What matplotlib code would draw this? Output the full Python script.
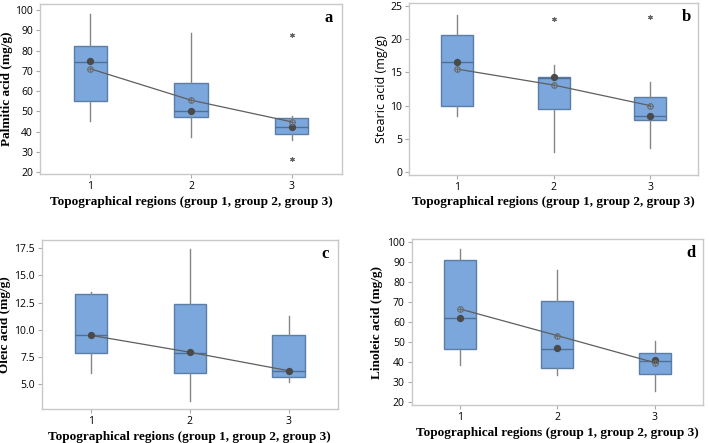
import numpy as np
import matplotlib.pyplot as plt

# x groups (topographical regions)
groups = [1, 2, 3]

# box stats per panel: lower whisker, Q1, median, Q3, upper whisker
palm_low = [45.0, 37.5, 36.0]
palm_q1 = [55.0, 47.3, 39.0]
palm_med = [74.5, 50.0, 42.5]
palm_q3 = [82.5, 64.0, 46.5]
palm_high = [98.0, 88.5, 47.5]
palm_out = [[], [], [87.5, 26.5]]
palm_dot = [75.0, 50.3, 42.5]
palm_mean = [71.0, 55.5, 44.8]

stear_low = [8.5, 3.0, 3.6]
stear_q1 = [10.0, 9.5, 7.8]
stear_med = [16.5, 14.2, 8.5]
stear_q3 = [20.6, 14.3, 11.3]
stear_high = [23.6, 16.1, 13.5]
stear_out = [[], [23.0], [23.4]]
stear_dot = [16.5, 14.3, 8.5]
stear_mean = [15.5, 13.1, 10.0]

oleic_low = [6.0, 3.5, 5.2]
oleic_q1 = [7.85, 6.05, 5.7]
oleic_med = [9.5, 7.9, 6.2]
oleic_q3 = [13.3, 12.4, 9.5]
oleic_high = [13.5, 17.4, 11.3]
oleic_out = [[], [], []]
oleic_dot = [9.5, 7.95, 6.25]
oleic_mean = None

lino_low = [38.5, 33.5, 25.5]
lino_q1 = [46.5, 37.0, 34.0]
lino_med = [62.0, 46.5, 40.5]
lino_q3 = [91.0, 70.5, 44.5]
lino_high = [96.5, 86.0, 50.5]
lino_out = [[], [], []]
lino_dot = [62.0, 46.8, 40.7]
lino_mean = [66.3, 53.0, 39.5]

box_fill = '#7ba7dc'
box_edge = '#5b7ea6'
serif = 'Liberation Serif'
sans = 'Open Sans'


def draw_panel(ax, low, q1, med, q3, high, out, dot, mean, ylim, yticks,
               yfmt, ylabel, letter, ylab_x, xlab_y, ylabel_serif=True):
    stats = []
    for i in range(3):
        stats.append(dict(whislo=low[i], q1=q1[i], med=med[i], q3=q3[i],
                          whishi=high[i], fliers=out[i], label=str(groups[i])))
    ax.bxp(stats, positions=groups, widths=0.33, patch_artist=True,
           showcaps=False,
           boxprops=dict(facecolor=box_fill, edgecolor=box_edge, linewidth=1.0),
           medianprops=dict(color='#4f6f94', linewidth=1.0),
           whiskerprops=dict(color='#858585', linewidth=1.0),
           flierprops=dict(marker=(6, 2, 0), markersize=3.2, markeredgecolor='#666666',
                           markeredgewidth=0.8))
    ax.scatter(groups, dot, s=18, color='#4a4a4a', zorder=4)
    if mean is not None:
        ax.plot(groups, mean, color='#5e5e5e', lw=0.9, zorder=3)
        ax.plot(groups, mean, ls='none', marker='o', ms=4, mfc='none',
                mec='#6a6a6a', mew=0.8, zorder=5)
        ax.plot(groups, mean, ls='none', marker='+', ms=4,
                mec='#6a6a6a', mew=0.6, zorder=5)
    else:
        ax.plot(groups, dot, color='#5e5e5e', lw=0.9, zorder=3)
    ax.set_xlim(0.5, 3.5)
    ax.set_ylim(*ylim)
    ax.set_yticks(yticks)
    ax.set_yticklabels([yfmt.format(v) for v in yticks])
    ax.set_xticks(groups)
    ax.set_xticklabels([str(g) for g in groups])
    for lab in ax.get_xticklabels() + ax.get_yticklabels():
        lab.set_fontfamily(sans)
        lab.set_fontsize(7.5)
    ax.tick_params(length=3, color='#aaaaaa', pad=2)
    for sp in ax.spines.values():
        sp.set_color('#c8c8c8')
        sp.set_linewidth(1.0)
    ax.set_xlabel('Topographical regions (group 1, group 2, group 3)',
                  fontfamily=serif, fontweight='bold', fontsize=9.5)
    ax.xaxis.set_label_coords(0.5, xlab_y)
    if ylabel_serif:
        ax.set_ylabel(ylabel, fontfamily=serif, fontweight='bold', fontsize=9.5)
    else:
        ax.set_ylabel(ylabel, fontfamily=sans, fontsize=9)
    ax.yaxis.set_label_coords(ylab_x, 0.5)
    ax.yaxis.label.set_va('center')
    ax.xaxis.label.set_va('center')
    ax.text(0.957, 0.92, letter, transform=ax.transAxes, ha='center', va='center',
            fontfamily=serif, fontweight='bold', fontsize=12)


fig = plt.figure(figsize=(7.09, 4.43), dpi=100)
ax_a = fig.add_axes([0.0564, 0.607, 0.426, 0.384])
ax_b = fig.add_axes([0.577, 0.605, 0.408, 0.388])
ax_c = fig.add_axes([0.0588, 0.0767, 0.418, 0.3815])
ax_d = fig.add_axes([0.5807, 0.0858, 0.411, 0.374])

draw_panel(ax_a, palm_low, palm_q1, palm_med, palm_q3, palm_high, palm_out,
           palm_dot, palm_mean, (19, 103), np.arange(20, 101, 10), '{:.0f}',
           'Palmitic acid (mg/g)', 'a', -0.109, -0.163)
draw_panel(ax_b, stear_low, stear_q1, stear_med, stear_q3, stear_high, stear_out,
           stear_dot, stear_mean, (-0.45, 25.45), np.arange(0, 26, 5), '{:.0f}',
           'Stearic acid (mg/g)', 'b', -0.097, -0.155, ylabel_serif=False)
draw_panel(ax_c, oleic_low, oleic_q1, oleic_med, oleic_q3, oleic_high, oleic_out,
           oleic_dot, oleic_mean, (2.73, 18.26), np.arange(5.0, 17.6, 2.5), '{:.1f}',
           'Oleic acid (mg/g)', 'c', -0.124, -0.164)
draw_panel(ax_d, lino_low, lino_q1, lino_med, lino_q3, lino_high, lino_out,
           lino_dot, lino_mean, (18.3, 101.2), np.arange(20, 101, 10), '{:.0f}',
           'Linoleic acid (mg/g)', 'd', -0.12, -0.171)

fig.savefig('out.png', dpi=100)
